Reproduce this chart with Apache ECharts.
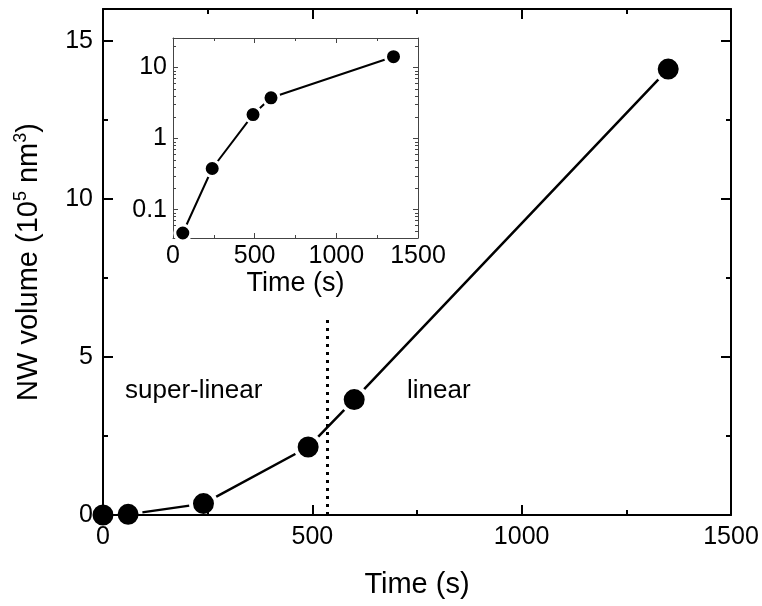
<!DOCTYPE html>
<html>
<head>
<meta charset="utf-8">
<script src="https://cdn.jsdelivr.net/npm/echarts@6/dist/echarts.min.js"></script>
<style>
  html, body { margin: 0; padding: 0; background: #fff; }
  #chart { width: 762px; height: 606px; }
</style>
</head>
<body>
<div id="chart"></div>
<script>
  // growth data
  var timeMain = [0, 60, 240, 490, 600, 1350];
  var volumeMain = [0, 0.02, 0.36, 2.15, 3.65, 14.1];
  var timeInset = [60, 240, 490, 600, 1350];
  var volumeInset = [0.047, 0.38, 2.18, 3.75, 14.2];
  var xTicks = [0, 500, 1000, 1500];
  var yTicks = [0, 5, 10, 15];
  var regimeBoundary = [535, 6.2]; // time, top of dotted line

  var font = 'Liberation Sans, Arial, sans-serif';

  function pairs(xs, ys) {
    return xs.map(function (x, i) { return [x, ys[i]]; });
  }

  function plainLabel(list) {
    return function (v) { return list.indexOf(v) >= 0 ? String(v) : ''; };
  }

  function logLabel(v) {
    var e = Math.log10(v);
    if (Math.abs(e - Math.round(e)) > 1e-6) return '';
    var p = Math.round(e);
    return p >= 0 ? String(Math.pow(10, p)) : (Math.pow(10, p)).toFixed(-p);
  }

  var myChart = echarts.init(document.getElementById('chart'));

  var mainLine = { onZero: false, lineStyle: { color: '#000', width: 2 } };
  var insetLine = { onZero: false, lineStyle: { color: '#444', width: 1 } };
  var mainTick = { inside: true, length: 10, lineStyle: { color: '#000', width: 2 } };
  var mainMinor = { show: true, splitNumber: 2, length: 5, lineStyle: { color: '#000', width: 2 } };
  var insetTick = { inside: true, length: 5, lineStyle: { color: '#444' } };
  var insetMinor = { show: true, splitNumber: 2, length: 3, lineStyle: { color: '#444' } };
  var insetLogMinor = { show: true, splitNumber: 9, length: 3, lineStyle: { color: '#444' } };

  myChart.setOption({
    animation: false,
    backgroundColor: '#fff',
    textStyle: { fontFamily: font, color: '#000' },
    grid: [
      { left: 103, right: 31, top: 9, bottom: 91 },
      { left: 173, top: 38, width: 245, height: 200 }
    ],
    xAxis: [
      {
        gridIndex: 0, type: 'value', min: xTicks[0], max: xTicks[xTicks.length - 1], interval: 500,
        name: 'Time (s)', nameLocation: 'middle', nameGap: 55,
        nameTextStyle: { fontSize: 29, color: '#000', fontFamily: font },
        axisLine: mainLine, z: 5, axisTick: mainTick, minorTick: mainMinor,
        axisLabel: { fontSize: 25, color: '#000', margin: 10, fontFamily: font, formatter: plainLabel(xTicks) },
        splitLine: { show: false }
      },
      {
        gridIndex: 0, type: 'value', position: 'top', min: 0, max: 1500, interval: 500,
        axisLine: mainLine, z: 5, axisTick: mainTick, minorTick: mainMinor,
        axisLabel: { show: false }, splitLine: { show: false }
      },
      {
        gridIndex: 1, type: 'value', min: 0, max: 1500, interval: 500,
        name: 'Time (s)', nameLocation: 'middle', nameGap: 31,
        nameTextStyle: { fontSize: 27, color: '#000', fontFamily: font },
        axisLine: insetLine, axisTick: insetTick, minorTick: insetMinor,
        axisLabel: { fontSize: 25, color: '#000', margin: 6, fontFamily: font, formatter: plainLabel(xTicks) },
        splitLine: { show: false }
      },
      {
        gridIndex: 1, type: 'value', position: 'top', min: 0, max: 1500, interval: 500,
        axisLine: insetLine, axisTick: insetTick, minorTick: insetMinor,
        axisLabel: { show: false }, splitLine: { show: false }
      }
    ],
    yAxis: [
      {
        gridIndex: 0, type: 'value', min: yTicks[0], max: 16, interval: 5,
        name: '{a|NW volume (10}{s|5}{a| nm}{s|3}{a|)}', nameLocation: 'middle', nameGap: 57,
        nameTextStyle: {
          rich: {
            a: { fontSize: 29, color: '#000', fontFamily: font },
            s: { fontSize: 18, color: '#000', fontFamily: font, verticalAlign: 'top', padding: [0, 0, 16, 0] }
          }
        },
        axisLine: mainLine, z: 5, axisTick: mainTick, minorTick: mainMinor,
        axisLabel: { fontSize: 25, color: '#000', margin: 10, fontFamily: font, formatter: plainLabel(yTicks) },
        splitLine: { show: false }
      },
      {
        gridIndex: 0, type: 'value', position: 'right', min: 0, max: 16, interval: 5,
        axisLine: mainLine, z: 5, axisTick: mainTick, minorTick: mainMinor,
        axisLabel: { show: false }, splitLine: { show: false }
      },
      {
        gridIndex: 1, type: 'log', logBase: 10, min: 0.04, max: 26,
        axisLine: insetLine, axisTick: insetTick, minorTick: insetLogMinor,
        axisLabel: { fontSize: 25, color: '#000', margin: 6, fontFamily: font, formatter: logLabel },
        splitLine: { show: false }
      },
      {
        gridIndex: 1, type: 'log', logBase: 10, min: 0.04, max: 26, position: 'right',
        axisLine: insetLine, axisTick: insetTick, minorTick: insetLogMinor,
        axisLabel: { show: false }, splitLine: { show: false }
      }
    ],
    series: [
      {
        name: 'main',
        type: 'line',
        xAxisIndex: 0, yAxisIndex: 0,
        data: pairs(timeMain, volumeMain),
        symbol: 'circle', symbolSize: 25,
        lineStyle: { color: '#000', width: 2.5 },
        itemStyle: { color: '#000', borderColor: '#fff', borderWidth: 4 },
        markLine: {
          silent: true, symbol: 'none', label: { show: false },
          lineStyle: { color: '#000', width: 3, type: [3, 5] },
          data: [[{ coord: [regimeBoundary[0], 0] }, { coord: [regimeBoundary[0], regimeBoundary[1]] }]]
        }
      },
      {
        name: 'inset',
        type: 'line',
        xAxisIndex: 2, yAxisIndex: 2,
        data: pairs(timeInset, volumeInset),
        symbol: 'circle', symbolSize: 16,
        lineStyle: { color: '#000', width: 2 },
        itemStyle: { color: '#000', borderColor: '#fff', borderWidth: 3 }
      }
    ],
    graphic: [
      { type: 'text', left: 125, top: 378, style: { text: 'super-linear', font: '26px ' + font, fill: '#000' } },
      { type: 'text', left: 407, top: 378, style: { text: 'linear', font: '26px ' + font, fill: '#000' } }
    ]
  });
</script>
</body>
</html>
